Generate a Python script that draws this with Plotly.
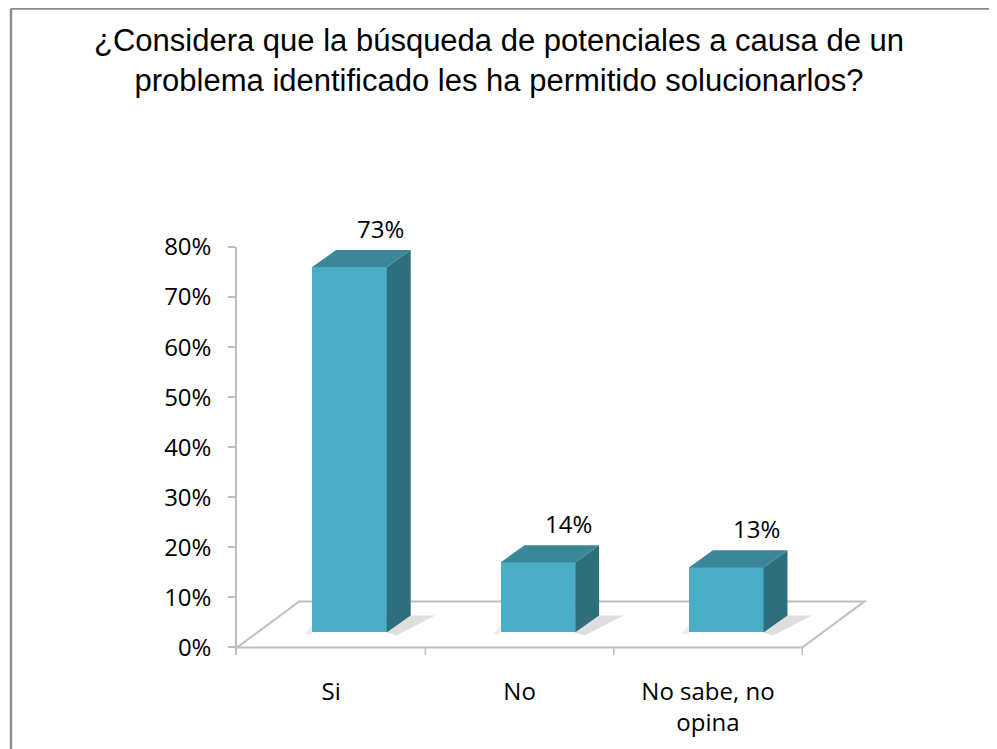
import plotly.graph_objects as go

# ---- data ----
categories = ["Si", "No", "No sabe, no<br>opina"]
values = [73, 14, 13]
y_ticks = [0, 10, 20, 30, 40, 50, 60, 70, 80]
y_tick_labels = [f"{v}%" for v in y_ticks]
title_text = ("¿Considera que la búsqueda de potenciales a causa de un<br>"
              "problema identificado les ha permitido solucionarlos?")

# ---- style / geometry ----
# the page body adds an 8px offset, so the figure is drawn 8px smaller
W, H = 989, 741
ML, MR, MT, MB = 229, 127, 239, 94
XR = [-0.5, 2.86]
YR = [-1.5, 80]
LIFT = 3.0          # bars sit slightly above the front floor edge
OFF = 0.097         # bar shift into depth
BW = 0.396          # bar width
DX, DY = 0.127, 3.4 # bar depth
FDX, FDY = 0.33, 9.2  # floor depth
FRONT = "#4BACC6"
SIDE = "#2F6E7D"
TOP = "#3A8799"
GRAY = "#BFBFBF"
TICKFONT = dict(family="Open Sans", size=24, color="#000000")

fig = go.Figure()

# front faces
fig.add_trace(go.Bar(
    x=[i + OFF for i in range(len(values))], y=values, base=LIFT, width=BW,
    marker=dict(color=FRONT, line=dict(width=0)), hoverinfo="skip",
    showlegend=False))

shapes = []
# floor
fl = -0.5
fr = len(categories) - 0.5
shapes.append(dict(type="path", xref="x", yref="y", layer="below",
                   path=f"M {fl},0 L {fr},0 L {fr+FDX},{FDY} L {fl+FDX},{FDY} Z",
                   line=dict(color=GRAY, width=2), fillcolor="white"))

for i, v in enumerate(values):
    xl = i + OFF - BW / 2
    xr = i + OFF + BW / 2
    b = LIFT
    t = LIFT + v
    # soft shadow on floor
    shapes.append(dict(type="path", xref="x", yref="y", layer="below",
                       path=(f"M {xr},{b} L {xr+DX},{b+DY} L {xr+DX+0.13},{b+DY} "
                             f"L {xr+0.05},{b-0.6} Z"),
                       line=dict(width=0), fillcolor="rgba(0,0,0,0.13)"))
    shapes.append(dict(type="path", xref="x", yref="y", layer="below",
                       path=(f"M {xl-0.04},{b-0.3} L {xl},{b+1.5} L {xl},{b-0.3} Z"),
                       line=dict(width=0), fillcolor="rgba(0,0,0,0.08)"))
    # side face
    fig.add_trace(go.Scatter(
        x=[xr, xr, xr + DX, xr + DX, xr], y=[b, t, t + DY, b + DY, b],
        mode="lines", fill="toself", fillcolor=SIDE, line=dict(width=0, color=SIDE),
        hoverinfo="skip", showlegend=False))
    # top face
    fig.add_trace(go.Scatter(
        x=[xl, xr, xr + DX, xl + DX, xl], y=[t, t, t + DY, t + DY, t],
        mode="lines", fill="toself", fillcolor=TOP, line=dict(width=0, color=TOP),
        hoverinfo="skip", showlegend=False))

# data labels (paper y derived from the y-axis range so they may sit above it)
annotations = []
for i, v in enumerate(values):
    annotations.append(dict(
        x=i + 0.26, xref="x",
        y=(v + 10.7 - YR[0]) / (YR[1] - YR[0]), yref="paper",
        text=f"{v}%", showarrow=False, font=TICKFONT,
        xanchor="center", yanchor="middle"))

# category boundary ticks under the front edge
for k in range(1, len(categories) + 1):
    shapes.append(dict(type="line", xref="x", yref="y", x0=k - 0.5, x1=k - 0.5,
                       y0=0, y1=YR[0], line=dict(color=GRAY, width=1.5)))

# chart border (top and left only visible)
pw = W - ML - MR
ph = H - MT - MB
def px_x(p):
    return (p - ML) / pw
def px_y(p):
    return (H - MB - p) / ph
shapes.append(dict(type="line", xref="paper", yref="paper",
                   x0=px_x(3), x1=px_x(1100), y0=px_y(0.6), y1=px_y(0.6),
                   line=dict(color="#8C8C8C", width=2.5)))
shapes.append(dict(type="line", xref="paper", yref="paper",
                   x0=px_x(3), x1=px_x(3), y0=px_y(0.6), y1=px_y(800),
                   line=dict(color="#8C8C8C", width=2.5)))

fig.update_layout(
    width=W, height=H,
    margin=dict(l=ML, r=MR, t=MT, b=MB, pad=0),
    paper_bgcolor="white", plot_bgcolor="white",
    title=dict(text=title_text, x=(499 - 8) / W, xref="container", xanchor="center",
               y=1 - 43 / H, yref="container", yanchor="middle",
               font=dict(family="Liberation Sans", size=31, color="#000000")),
    xaxis=dict(range=XR, tickvals=list(range(len(categories))), ticktext=categories,
               showline=False, showgrid=False, zeroline=False, ticks="",
               tickfont=TICKFONT, ticklabelstandoff=20, fixedrange=True),
    yaxis=dict(range=YR, tickvals=y_ticks, ticktext=y_tick_labels,
               showline=True, linecolor=GRAY, linewidth=1.5,
               ticks="outside", ticklen=7, tickcolor=GRAY, tickwidth=1.5,
               showgrid=False, zeroline=False, tickfont=TICKFONT,
               ticklabelstandoff=12, fixedrange=True),
    shapes=shapes, annotations=annotations,
    bargap=0, showlegend=False,
)

fig.write_html("out.html")
